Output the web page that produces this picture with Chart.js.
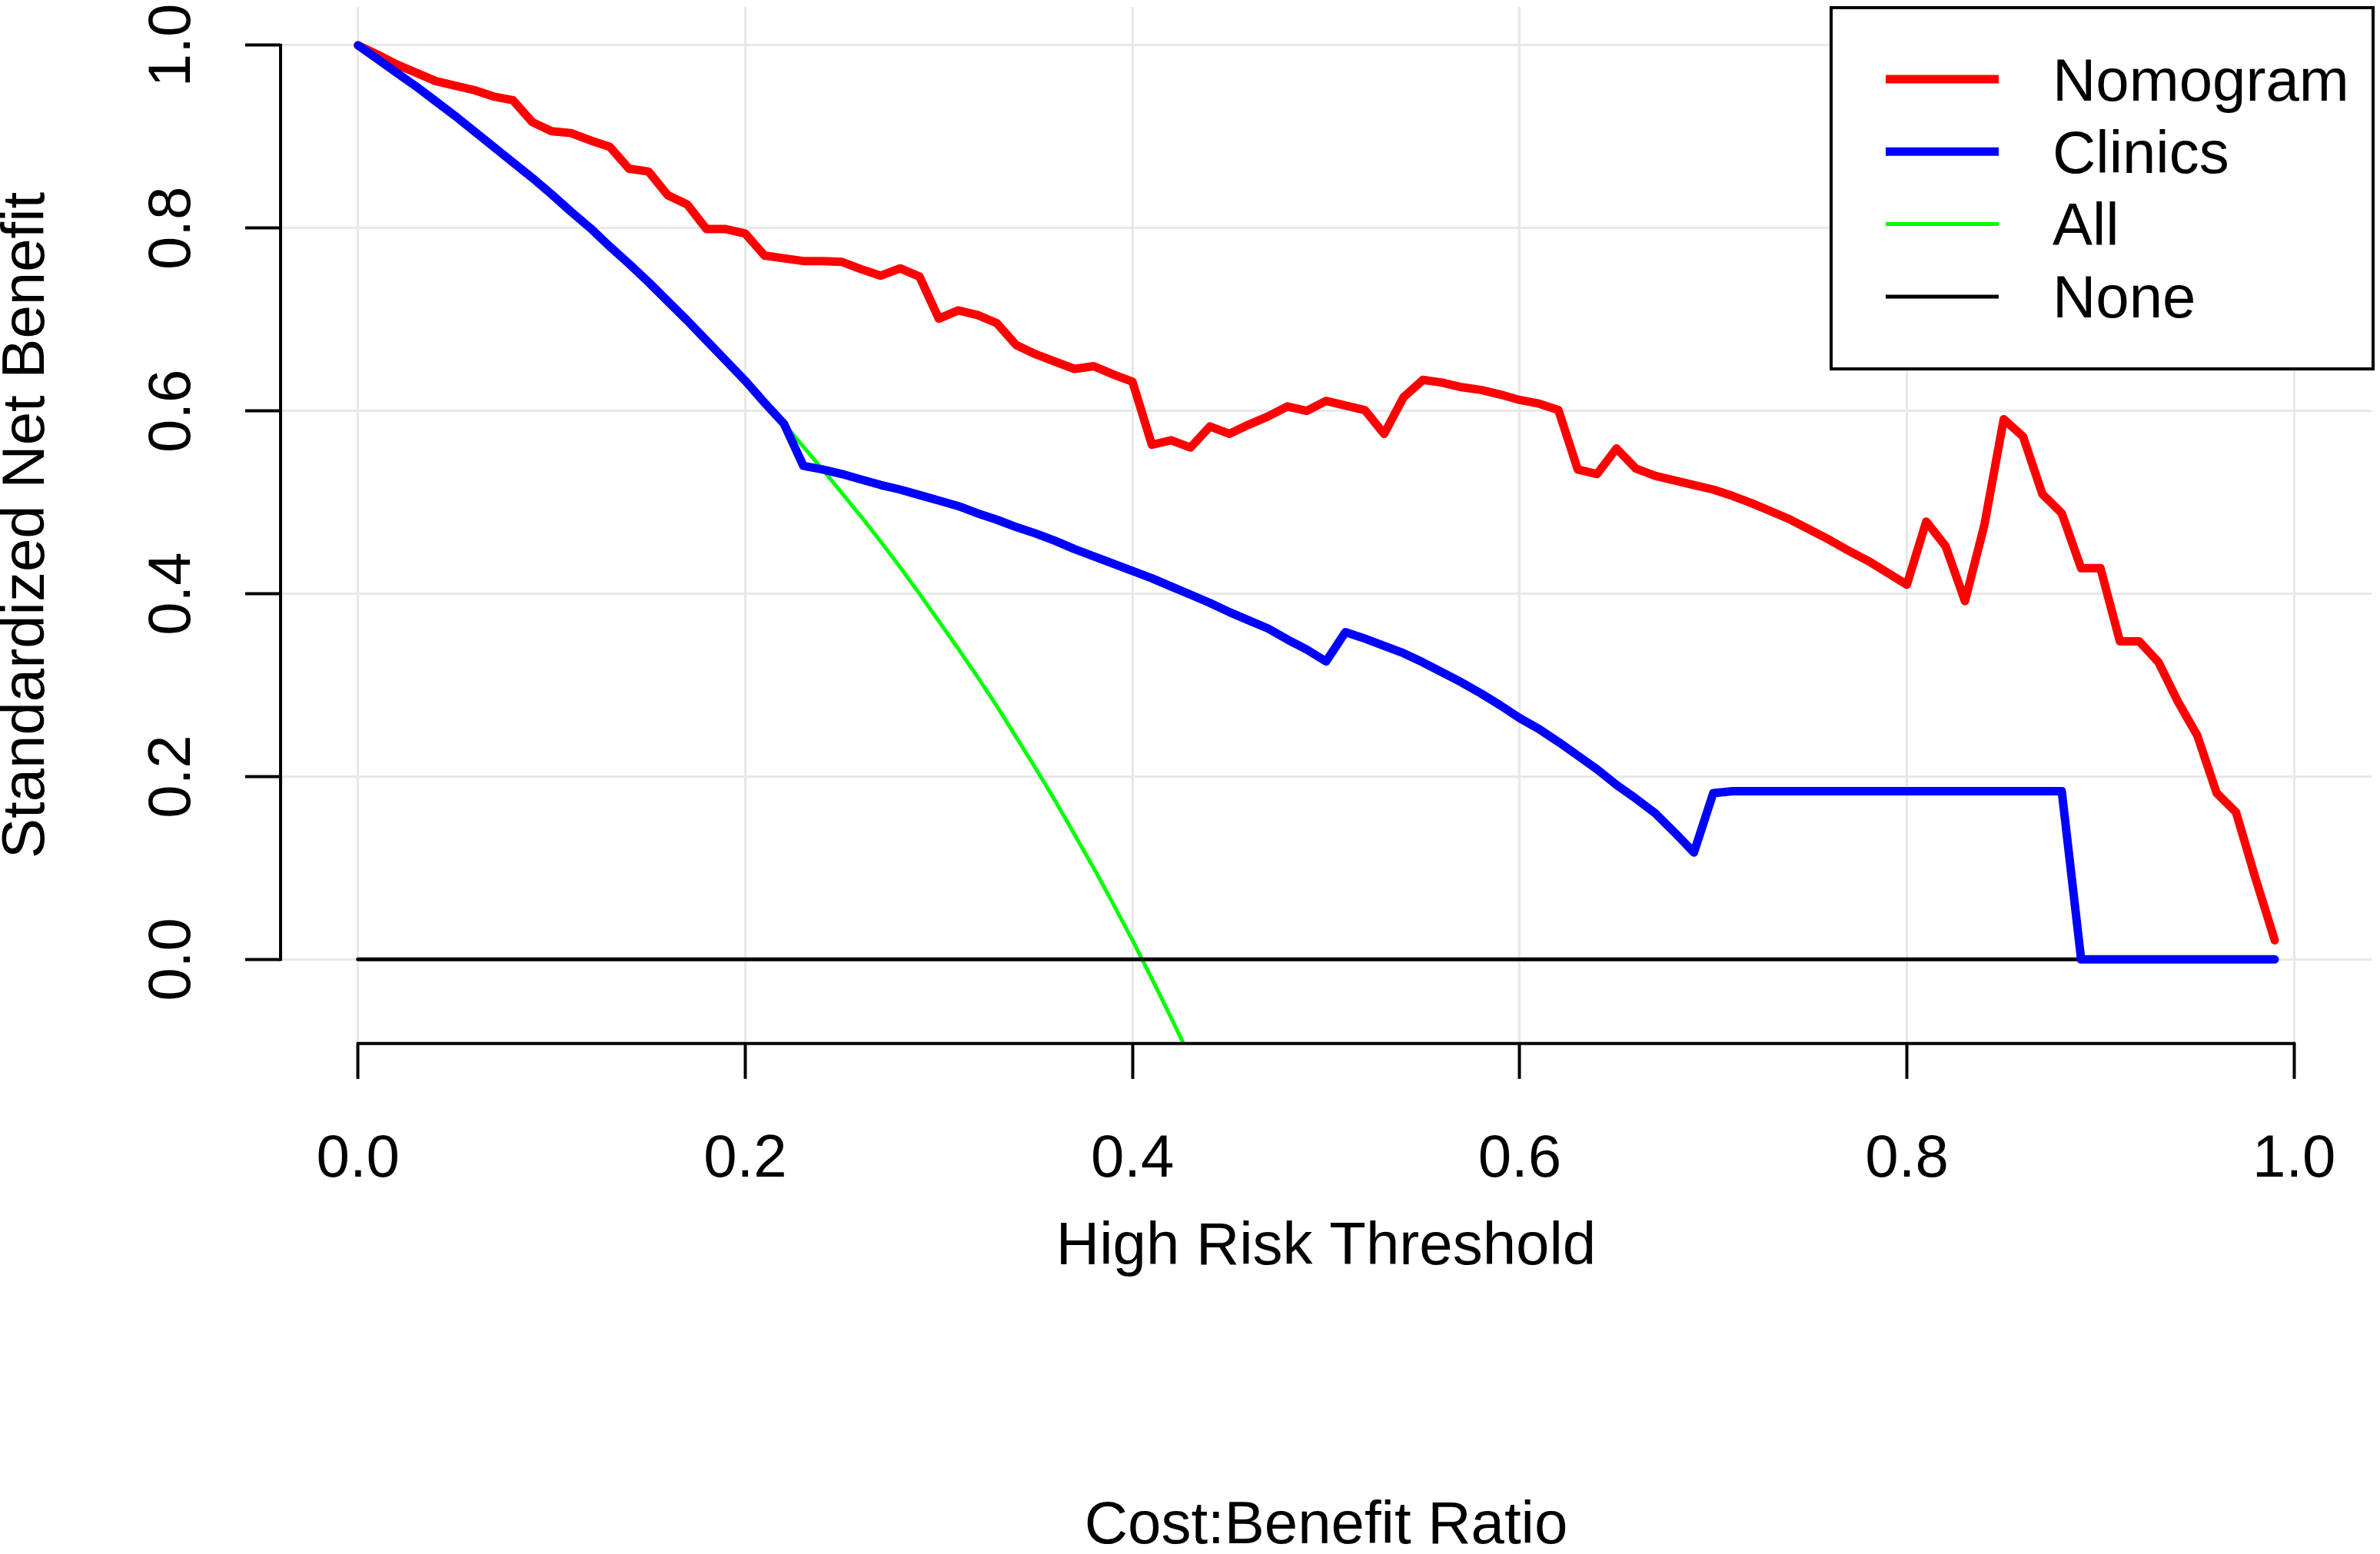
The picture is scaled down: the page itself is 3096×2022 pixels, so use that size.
<!DOCTYPE html>
<html>
<head>
<meta charset="utf-8">
<script src="https://cdn.jsdelivr.net/npm/chart.js@4.4.1/dist/chart.umd.min.js"></script>
<style>
html,body{margin:0;padding:0;background:#fff;}
#wrap{width:3096px;height:2022px;}
</style>
</head>
<body>
<div id="wrap"><canvas id="c" width="3096" height="2022" style="width:3096px;height:2022px"></canvas></div>
<script>
// ---------- data ----------
const thresholds = [0.00,0.01,0.02,0.03,0.04,0.05,0.06,0.07,0.08,0.09,
  0.10,0.11,0.12,0.13,0.14,0.15,0.16,0.17,0.18,0.19,
  0.20,0.21,0.22,0.23,0.24,0.25,0.26,0.27,0.28,0.29,
  0.30,0.31,0.32,0.33,0.34,0.35,0.36,0.37,0.38,0.39,
  0.40,0.41,0.42,0.43,0.44,0.45,0.46,0.47,0.48,0.49,
  0.50,0.51,0.52,0.53,0.54,0.55,0.56,0.57,0.58,0.59,
  0.60,0.61,0.62,0.63,0.64,0.65,0.66,0.67,0.68,0.69,
  0.70,0.71,0.72,0.73,0.74,0.75,0.76,0.77,0.78,0.79,
  0.80,0.81,0.82,0.83,0.84,0.85,0.86,0.87,0.88,0.89,
  0.90,0.91,0.92,0.93,0.94,0.95,0.96,0.97,0.98,0.99];

const nomogram = [1.000,0.990,0.979,0.970,0.961,0.956,0.951,0.944,0.940,0.916,
  0.906,0.904,0.896,0.889,0.865,0.862,0.836,0.826,0.799,0.799,
  0.794,0.770,0.767,0.764,0.764,0.763,0.755,0.748,0.756,0.747,
  0.701,0.710,0.705,0.696,0.672,0.662,0.654,0.646,0.649,0.640,
  0.632,0.563,0.568,0.560,0.583,0.575,0.585,0.594,0.605,0.600,
  0.611,0.606,0.601,0.575,0.615,0.634,0.631,0.626,0.623,0.618,
  0.612,0.608,0.601,0.536,0.531,0.559,0.537,0.529,0.524,0.519,
  0.514,0.507,0.499,0.490,0.481,0.470,0.459,0.447,0.436,0.423,
  0.410,0.479,0.452,0.392,0.475,0.591,0.572,0.509,0.488,0.428,
  0.428,0.348,0.348,0.325,0.282,0.245,0.182,0.161,0.089,0.021];

const clinics = [1.000,0.985,0.970,0.955,0.939,0.923,0.906,0.889,0.872,0.855,
  0.837,0.818,0.800,0.780,0.761,0.741,0.720,0.699,0.677,0.655,
  0.633,0.609,0.586,0.540,0.536,0.531,0.525,0.519,0.514,0.508,
  0.502,0.496,0.488,0.481,0.473,0.466,0.458,0.449,0.441,0.433,
  0.425,0.417,0.408,0.399,0.390,0.380,0.371,0.362,0.350,0.339,
  0.326,0.358,0.351,0.343,0.335,0.325,0.314,0.303,0.291,0.278,
  0.264,0.252,0.238,0.223,0.208,0.191,0.176,0.160,0.139,0.117,
  0.182,0.184,0.184,0.184,0.184,0.184,0.184,0.184,0.184,0.184,
  0.184,0.184,0.184,0.184,0.184,0.184,0.184,0.184,0.184,0.000,
  0.000,0.000,0.000,0.000,0.000,0.000,0.000,0.000,0.000,0.000];

const allThresholds = [0.00,0.01,0.02,0.03,0.04,0.05,0.06,0.07,0.08,0.09,
  0.10,0.11,0.12,0.13,0.14,0.15,0.16,0.17,0.18,0.19,
  0.20,0.21,0.22,0.23,0.24,0.25,0.26,0.27,0.28,0.29,
  0.30,0.31,0.32,0.33,0.34,0.35,0.36,0.37,0.38,0.39,
  0.40,0.41,0.42,0.43,0.44];
const allValues = [1.000,0.985,0.970,0.955,0.939,0.923,0.906,0.889,0.872,0.855,
  0.837,0.818,0.800,0.780,0.761,0.741,0.720,0.699,0.677,0.655,
  0.633,0.609,0.586,0.561,0.536,0.510,0.484,0.457,0.429,0.400,
  0.370,0.340,0.309,0.277,0.243,0.209,0.174,0.137,0.100,0.061,
  0.021,-0.021,-0.064,-0.108,-0.154];

const noneThresholds = [0.00, 0.99];
const noneValues = [0.000, 0.000];

const seriesNames = ['Nomogram', 'Clinics', 'All', 'None'];

const xTickValues = [0.0, 0.2, 0.4, 0.6, 0.8, 1.0];
const xTickLabels = ['0.0', '0.2', '0.4', '0.6', '0.8', '1.0'];
const yTickValues = [0.0, 0.2, 0.4, 0.6, 0.8, 1.0];
const yTickLabels = ['0.0', '0.2', '0.4', '0.6', '0.8', '1.0'];

const xTitle = 'High Risk Threshold';
const yTitle = 'Standardized Net Benefit';
const bottomTitle = 'Cost:Benefit Ratio';

// ---------- chart ----------
const FONT = '"Liberation Sans", Arial, Helvetica, sans-serif';
Chart.defaults.font.family = FONT;
Chart.defaults.color = '#000';

const toPts = (xs, ys) => xs.map((x, i) => ({x: x, y: ys[i]}));

const rAxes = {
  id: 'rAxes',
  afterDatasetsDraw(chart) {
    const {ctx, chartArea, scales} = chart;
    const xs = scales.x, ys = scales.y;
    ctx.save();
    ctx.strokeStyle = '#000';
    ctx.lineWidth = 4;
    ctx.beginPath();
    ctx.moveTo(chartArea.left, ys.getPixelForValue(yTickValues[0]) + 2);
    ctx.lineTo(chartArea.left, ys.getPixelForValue(yTickValues[yTickValues.length - 1]) - 2);
    ctx.moveTo(xs.getPixelForValue(xTickValues[0]) - 2, chartArea.bottom);
    ctx.lineTo(xs.getPixelForValue(xTickValues[xTickValues.length - 1]) + 2, chartArea.bottom);
    ctx.stroke();
    ctx.restore();
  }
};

const rLegend = {
  id: 'rLegend',
  afterDraw(chart) {
    const {ctx, chartArea} = chart;
    const w = 705, h = 470;
    const L = chartArea.right + 2 - w, T = chartArea.top + 1;
    ctx.save();
    ctx.fillStyle = '#fff';
    ctx.fillRect(L, T, w, h);
    ctx.lineWidth = 4;
    ctx.strokeStyle = '#000';
    ctx.strokeRect(L, T, w, h);
    ctx.font = '78px ' + FONT;
    ctx.textBaseline = 'middle';
    ctx.textAlign = 'left';
    chart.data.datasets.forEach((ds, i) => {
      const yy = T + 93 + i * 94.3;
      ctx.strokeStyle = ds.borderColor;
      ctx.lineWidth = ds.borderWidth;
      ctx.lineCap = 'butt';
      ctx.beginPath();
      ctx.moveTo(L + 71, yy);
      ctx.lineTo(L + 218, yy);
      ctx.stroke();
      ctx.fillStyle = '#000';
      ctx.fillText(ds.label, L + 288, yy + 6);
    });
    ctx.restore();
  }
};

const gridOpts = {
  color: '#e8e8e8',
  lineWidth: 3,
  drawTicks: true,
  tickLength: 46,
  tickColor: '#000',
  tickWidth: 4
};

new Chart(document.getElementById('c'), {
  type: 'line',
  data: {
    datasets: [
      {label: seriesNames[0], data: toPts(thresholds, nomogram), borderColor: '#ff0000', borderWidth: 11, order: 2},
      {label: seriesNames[1], data: toPts(thresholds, clinics), borderColor: '#0000ff', borderWidth: 11, order: 1},
      {label: seriesNames[2], data: toPts(allThresholds, allValues), borderColor: '#00ff00', borderWidth: 5, order: 4, clip: 0},
      {label: seriesNames[3], data: toPts(noneThresholds, noneValues), borderColor: '#000000', borderWidth: 5, order: 3}
    ]
  },
  options: {
    responsive: false,
    maintainAspectRatio: false,
    devicePixelRatio: 1,
    animation: false,
    events: [],
    layout: {padding: {top: 9, right: 11, left: 0, bottom: 0}},
    elements: {
      point: {radius: 0, hoverRadius: 0},
      line: {tension: 0, fill: false, borderJoinStyle: 'round', borderCapStyle: 'round'}
    },
    scales: {
      x: {
        type: 'linear',
        min: -0.04,
        max: 1.04,
        afterBuildTicks: s => { s.ticks = xTickValues.map(v => ({value: v})); },
        afterFit: s => { s.height = 594; s.paddingLeft = 0; s.paddingRight = 0; },
        border: {display: false},
        grid: gridOpts,
        ticks: {
          autoSkip: false, minRotation: 0, maxRotation: 0, padding: 59,
          color: '#000', font: {size: 78},
          callback: (v, i) => xTickLabels[i]
        },
        title: {display: true, text: xTitle, color: '#000', font: {size: 78}, padding: {top: 0, bottom: 282}}
      },
      y: {
        type: 'linear',
        min: -0.092,
        max: 1.042,
        afterBuildTicks: s => { s.ticks = yTickValues.map(v => ({value: v})); },
        afterFit: s => { s.width = 365; s.paddingTop = 0; s.paddingBottom = 0; },
        border: {display: false},
        grid: gridOpts,
        ticks: {
          autoSkip: false, minRotation: 90, maxRotation: 90, crossAlign: 'center', padding: 39,
          color: '#000', font: {size: 78},
          callback: (v, i) => yTickLabels[i]
        },
        title: {display: true, text: yTitle, color: '#000', font: {size: 78, lineHeight: 0.92}, padding: 0}
      }
    },
    plugins: {
      legend: {display: false},
      tooltip: {enabled: false},
      title: {
        display: true, text: bottomTitle, position: 'bottom', fullSize: false,
        color: '#000', font: {size: 78, weight: 'normal', lineHeight: 0.9}, padding: 0
      }
    }
  },
  plugins: [rAxes, rLegend]
});
</script>
</body>
</html>
